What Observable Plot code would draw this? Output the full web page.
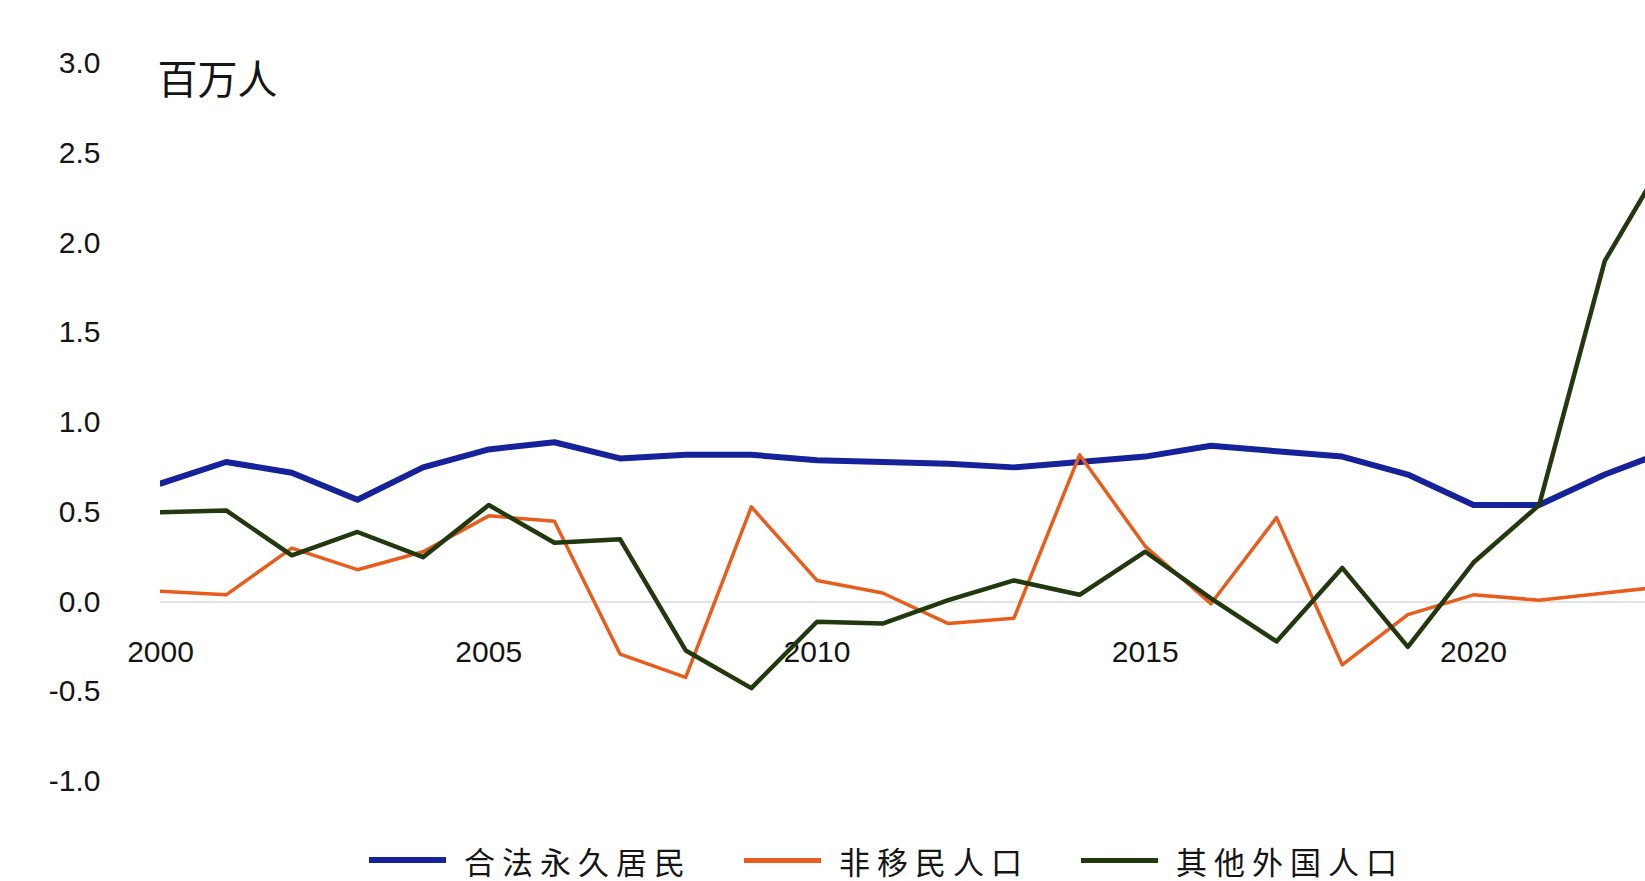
<!DOCTYPE html>
<html>
<head>
<meta charset="utf-8">
<script src="https://cdn.jsdelivr.net/npm/d3@7"></script>
<script src="https://cdn.jsdelivr.net/npm/@observablehq/plot@0.6"></script>
<style>
  html, body { margin: 0; padding: 0; background: #fff; }
  body { width: 1645px; height: 881px; overflow: hidden; position: relative; }
  #chart svg { display: block; }
  #legend { position: absolute; left: 369px; top: 842px; height: 36px; display: flex; align-items: center;
            font-family: "Noto Sans CJK SC", sans-serif; font-size: 31px; line-height: 1; color: #151515; letter-spacing: 7px; }
  .item { display: flex; align-items: center; margin-right: 52px; }
  .sw { width: 77px; margin-right: 18px; }
</style>
</head>
<body>
<div id="chart"></div>
<div id="legend"></div>
<script>
// ---- data (millions of people) ----
const years = [2000,2001,2002,2003,2004,2005,2006,2007,2008,2009,2010,2011,2012,2013,2014,2015,2016,2017,2018,2019,2020,2021,2022,2023];
const legalPermanent = [0.66,0.78,0.72,0.57,0.75,0.85,0.89,0.80,0.82,0.82,0.79,0.78,0.77,0.75,0.78,0.81,0.87,0.84,0.81,0.71,0.54,0.54,0.71,0.85];
const nonImmigrant   = [0.06,0.04,0.30,0.18,0.28,0.48,0.45,-0.29,-0.42,0.53,0.12,0.05,-0.12,-0.09,0.82,0.31,-0.01,0.47,-0.35,-0.07,0.04,0.01,0.05,0.09];
const otherForeign   = [0.50,0.51,0.26,0.39,0.25,0.54,0.33,0.35,-0.27,-0.48,-0.11,-0.12,0.01,0.12,0.04,0.28,0.02,-0.22,0.19,-0.25,0.22,0.54,1.90,2.52];
const seriesNames = ["合法永久居民", "非移民人口", "其他外国人口"];
const seriesColors = ["#15229a", "#e85d1c", "#22380e"];
const yTicks = [-1.0,-0.5,0.0,0.5,1.0,1.5,2.0,2.5,3.0];
const xTicks = [2000,2005,2010,2015,2020];
const unitLabel = "百万人";

const lineOpts = (vals, i, w) => ({x: years, y: vals, stroke: seriesColors[i], strokeWidth: w,
  strokeLinejoin: "round", strokeLinecap: "round", clip: true});

const chart = Plot.plot({
  width: 1645,
  height: 836,
  marginLeft: 160,
  marginRight: 0,
  marginTop: 63,
  marginBottom: 55,
  x: {domain: [2000, 2022.62], axis: null},
  y: {domain: [-1, 3]},
  style: {fontFamily: "Liberation Sans, sans-serif", background: "transparent", color: "#151515"},
  marks: [
    Plot.ruleY([0], {stroke: "#e3e3e3", strokeWidth: 2}),
    Plot.axisY(yTicks, {tickSize: 0, tickPadding: 60, tickFormat: d => d.toFixed(1), fontSize: 30, fill: "#151515"}),
    Plot.text(xTicks, {x: d => d, y: () => 0, dy: 50, text: d => String(d), fontSize: 30, fill: "#151515"}),
    Plot.lineY(legalPermanent, lineOpts(legalPermanent, 0, 6)),
    Plot.lineY(nonImmigrant, lineOpts(nonImmigrant, 1, 3.5)),
    Plot.lineY(otherForeign, lineOpts(otherForeign, 2, 4.5)),
    Plot.text([unitLabel], {frameAnchor: "top-left", text: d => d, dx: -3, dy: 2, lineAnchor: "top",
      textAnchor: "start", fontSize: 40, fontFamily: "Noto Sans CJK SC", fill: "#151515"})
  ]
});
document.getElementById("chart").appendChild(chart);

const legend = document.getElementById("legend");
seriesNames.forEach((name, i) => {
  const item = document.createElement("div");
  item.className = "item";
  const sw = document.createElement("div");
  sw.className = "sw";
  sw.style.height = (i === 0 ? 6 : 5) + "px";
  sw.style.background = seriesColors[i];
  const label = document.createElement("span");
  label.textContent = name;
  item.appendChild(sw);
  item.appendChild(label);
  legend.appendChild(item);
});
</script>
</body>
</html>
